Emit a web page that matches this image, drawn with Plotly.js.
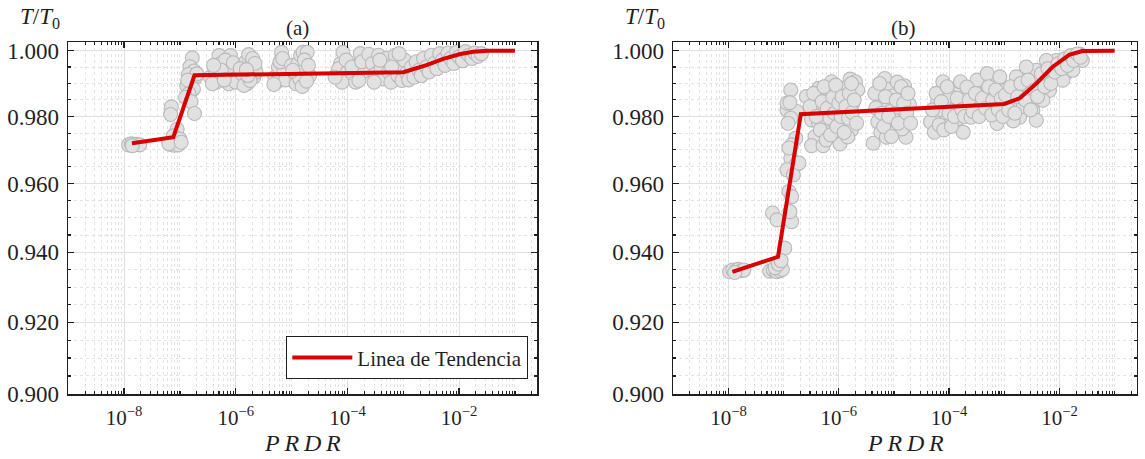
<!DOCTYPE html>
<html>
<head>
<meta charset="utf-8">
<script src="https://cdn.plot.ly/plotly-3.0.1.min.js"></script>
<style>
  html, body { margin: 0; padding: 0; background: #ffffff; }
  #chart { width: 1145px; height: 459px; }
</style>
</head>
<body>
<div id="chart"></div>
<script>
// ---- Panel (a): measured points ----
const prdrA = [
  1.2e-8, 1.35e-8, 1.5e-8, 1.65e-8, 1.9e-8, 1.4e-8,
  7.0e-8, 6.8e-8, 8.9e-8, 7.6e-8, 1.0e-7, 6.6e-8, 7.9e-8, 9.3e-8, 6.3e-8, 1.05e-7,
  1.66e-7, 1.51e-7, 1.78e-7, 1.41e-7, 1.9e-7, 1.58e-7, 1.32e-7, 1.74e-7, 1.45e-7, 1.26e-7, 1.58e-7, 1.82e-7, 2.0e-7, 1.38e-7,
  3.5e-7, 4.2e-7, 5.0e-7, 5.3e-7, 6.0e-7, 4.5e-7, 3.8e-7, 7.0e-7, 8.0e-7, 8.5e-7, 9.5e-7, 6.5e-7, 5.5e-7, 4.0e-7, 7.5e-7, 9.0e-7,
  1.0e-6, 6.2e-7, 1.3e-6, 1.5e-6, 1.7e-6, 1.9e-6, 2.1e-6, 2.3e-6, 1.6e-6, 1.4e-6, 1.8e-6, 2.0e-6, 1.2e-6, 2.2e-6, 1.65e-6, 1.55e-6,
  5.0e-6, 5.8e-6, 6.6e-6, 7.2e-6, 5.4e-6, 6.2e-6, 7.8e-6, 4.8e-6, 6.9e-6, 1.0e-5, 1.15e-5, 1.3e-5, 1.45e-5, 1.6e-5, 1.75e-5, 1.9e-5,
  2.1e-5, 1.2e-5, 1.4e-5, 1.7e-5, 1.05e-5, 1.55e-5, 2.0e-5, 1.85e-5,
  6.5e-5, 7.5e-5, 8.3e-5, 9.0e-5, 7.0e-5, 1.0e-4, 8.0e-5, 6.0e-5, 9.5e-5, 1.3e-4, 1.5e-4, 1.7e-4, 1.9e-4, 1.4e-4, 1.6e-4, 1.2e-4, 1.8e-4,
  2.4e-4, 2.8e-4, 3.2e-4, 3.6e-4, 4.0e-4, 4.5e-4, 5.0e-4, 5.5e-4, 6.0e-4, 6.6e-4, 7.2e-4, 8.0e-4, 8.8e-4, 9.5e-4,
  1.05e-3, 1.15e-3, 1.25e-3, 1.4e-3, 1.55e-3, 1.7e-3, 1.9e-3, 2.1e-3, 2.3e-3, 2.6e-3, 2.9e-3, 3.2e-3, 3.6e-3, 4.0e-3,
  4.5e-3, 5.0e-3, 5.6e-3, 6.3e-3, 7.0e-3, 8.0e-3, 9.0e-3, 1.0e-2, 1.15e-2, 1.3e-2, 1.5e-2, 1.7e-2, 1.9e-2, 2.2e-2, 2.5e-2,
  3.0e-4, 3.8e-4, 6.2e-4, 8.4e-4
];
const ratioA = [
  0.9715, 0.9718, 0.9715, 0.9717, 0.9715, 0.9713,
  0.9829, 0.9806, 0.9762, 0.9742, 0.9732, 0.9717, 0.9714, 0.9715, 0.9719, 0.9723,
  0.9978, 0.9951, 0.9938, 0.9927, 0.9918, 0.9903, 0.9893, 0.9883, 0.9869, 0.9858, 0.9845, 0.9809, 0.9929, 0.9910,
  0.9919, 0.9945, 0.9985, 0.9960, 0.9929, 0.9904, 0.9899, 0.9950, 0.9985, 0.9929, 0.9914, 0.9971, 0.9940, 0.9955, 0.9899, 0.9963,
  0.9904, 0.9911, 0.9929, 0.9966, 0.9988, 0.9950, 0.9919, 0.9935, 0.9899, 0.9894, 0.9909, 0.9976, 0.9945, 0.9961, 0.9924, 0.9942,
  0.9919, 0.9950, 0.9995, 0.9935, 0.9904, 0.9966, 0.9911, 0.9897, 0.9976, 0.9955, 0.9929, 0.9961, 0.9986, 0.9995, 0.9945, 0.9995,
  0.9924, 0.9899, 0.9914, 0.9971, 0.9940, 0.9891, 0.9955, 0.9907,
  0.9929, 0.9961, 0.9995, 0.9914, 0.9945, 0.9935, 0.9904, 0.9919, 0.9971, 0.9924, 0.9955, 0.9991, 0.9935, 0.9904, 0.9909, 0.9950, 0.9966,
  0.9989, 0.9961, 0.9929, 0.9986, 0.9945, 0.9914, 0.9976, 0.9935, 0.9904, 0.9961, 0.9986, 0.9924, 0.9945, 0.9909,
  0.9971, 0.9932, 0.9911, 0.9950, 0.9919, 0.9966, 0.9940, 0.9924, 0.9976, 0.9950, 0.9935, 0.9986, 0.9961, 0.9945,
  0.9991, 0.9971, 0.9955, 0.9993, 0.9976, 0.9961, 0.9996, 0.9981, 0.9969, 0.9997, 0.9986, 0.9976, 0.9993, 0.9983, 0.9991,
  0.9904, 0.9971, 0.9950, 0.9991
];

// ---- Panel (a): trend line ----
const prdrTrendA = [1.38e-8, 7.6e-8, 1.82e-7, 1.0e-3, 2.6e-3, 5.2e-3, 1.05e-2, 1.8e-2, 3.2e-2, 1.0e-1];
const ratioTrendA = [0.9720, 0.9738, 0.9925, 0.9934, 0.9956, 0.9975, 0.9990, 0.9997, 1.0000, 1.0000];

// ---- Panel (b): measured points ----
const prdrB = [
  1.05e-8, 1.2e-8, 1.35e-8, 1.5e-8, 1.7e-8, 1.9e-8, 1.3e-8,
  5.6e-8, 6.5e-8, 7.5e-8, 8.5e-8, 9.5e-8, 7.0e-8, 8.0e-8, 6.3e-8, 7.6e-8, 1.05e-7, 9.0e-8,
  1.35e-7, 1.15e-7, 1.73e-7, 1.35e-7, 1.66e-7, 1.4e-7, 1.35e-7, 1.66e-7, 1.15e-7, 1.5e-7, 1.25e-7, 1.4e-7, 1.4e-7, 1.3e-7, 1.9e-7, 1.25e-7,
  1.15e-7, 1.3e-7, 1.2e-7,
  4.3e-7, 7.4e-7, 1.6e-6, 1.4e-6, 3.2e-7, 6.5e-7, 1.3e-6, 4.3e-7, 9.8e-7, 1.8e-6, 3.2e-7, 6.5e-7, 1.3e-6, 1.7e-6, 6.5e-7, 3.7e-7,
  3.2e-7, 5.2e-7, 1.05e-6, 8.6e-7, 4.8e-7, 1.2e-6, 7.4e-7, 1.6e-6, 4.3e-7, 8.0e-7, 1.45e-6, 5.6e-7, 2.0e-6, 2.2e-6, 2.6e-7,
  3.0e-7, 3.5e-7, 3.9e-7, 4.6e-7, 5.0e-7, 5.4e-7, 5.9e-7, 6.2e-7, 6.9e-7, 7.1e-7, 7.8e-7, 8.3e-7, 8.8e-7, 9.2e-7, 1.0e-6,
  1.1e-6, 1.15e-6, 1.25e-6, 1.35e-6, 1.5e-6, 1.55e-6, 1.7e-6, 1.75e-6, 1.9e-6, 2.1e-6,
  4.2e-6, 5.1e-6, 6.3e-6, 6.8e-6, 7.7e-6, 8.7e-6, 1.02e-5, 1.15e-5, 1.3e-5, 1.45e-5, 1.65e-5, 1.9e-5, 5.8e-6, 9.5e-6, 1.25e-5,
  1.4e-5, 4.7e-6, 1.55e-5, 1.05e-5, 7.3e-6,
  4.5e-6, 5.5e-6, 6.0e-6, 6.5e-6, 7.0e-6, 8.0e-6, 9.0e-6, 1.1e-5, 1.2e-5, 1.35e-5, 1.5e-5, 1.7e-5, 1.8e-5, 2.0e-5,
  4.6e-5, 5.4e-5, 6.2e-5, 7.7e-5, 8.6e-5, 9.8e-5, 1.15e-4, 1.3e-4, 1.5e-4, 1.6e-4, 1.8e-4, 6.9e-5, 1.05e-4, 1.35e-4,
  5.0e-5, 5.8e-5, 6.6e-5, 7.2e-5, 8.0e-5, 9.2e-5, 1.0e-4, 1.1e-4, 1.25e-4, 1.4e-4, 1.7e-4, 1.9e-4,
  3.2e-4, 6.8e-4, 4.9e-4, 2.5e-4, 6.5e-4, 1.9e-3, 1.65e-3, 2.2e-3, 3.8e-3, 6.6e-3, 5.0e-3, 3.3e-3, 1.1e-3, 1.0e-2,
  1.5e-2, 1.3e-2, 2.0e-2, 2.3e-2, 7.6e-3, 2.9e-3, 1.45e-3, 9.8e-4, 4.3e-4, 2.8e-4, 7.4e-4, 1.45e-3, 4.4e-3, 8.7e-3,
  5.8e-3, 1.15e-2, 1.75e-2, 2.6e-2, 2.5e-3, 8.3e-4, 3.7e-4, 5.6e-4, 2.2e-3, 3.8e-3, 2.1e-4,
  2.3e-4, 2.7e-4, 3.0e-4, 3.5e-4, 4.0e-4, 4.6e-4, 5.2e-4, 5.9e-4, 6.2e-4, 7.0e-4, 7.8e-4, 8.8e-4, 9.4e-4, 1.05e-3,
  1.2e-3, 1.3e-3, 1.55e-3, 1.75e-3, 2.0e-3, 2.4e-3, 2.7e-3, 3.0e-3, 3.5e-3, 4.0e-3, 4.7e-3, 5.4e-3, 6.2e-3, 7.0e-3,
  8.2e-3, 9.4e-3, 1.1e-2, 1.25e-2, 1.4e-2, 1.6e-2, 1.8e-2, 2.1e-2, 2.4e-2
];
const ratioB = [
  0.9344, 0.9349, 0.9346, 0.9351, 0.9347, 0.9349, 0.9342,
  0.9346, 0.9349, 0.9344, 0.9347, 0.9351, 0.9356, 0.9366, 0.9514, 0.9494, 0.9412, 0.9376,
  0.9880, 0.9820, 0.9815, 0.9795, 0.9735, 0.9715, 0.9675, 0.9655, 0.9641, 0.9626, 0.9577, 0.9562, 0.9489, 0.9518, 0.9661, 0.9706,
  0.9840, 0.9842, 0.9780,
  0.9885, 0.9905, 0.9913, 0.9882, 0.9850, 0.9850, 0.9855, 0.9825, 0.9820, 0.9840, 0.9790, 0.9800, 0.9785, 0.9760, 0.9760, 0.9740,
  0.9713, 0.9713, 0.9718, 0.9755, 0.9870, 0.9885, 0.9868, 0.9815, 0.9780, 0.9787, 0.9739, 0.9815, 0.9905, 0.9880, 0.9860,
  0.9830, 0.9870, 0.9800, 0.9760, 0.9845, 0.9890, 0.9730, 0.9825, 0.9795, 0.9745, 0.9858, 0.9810, 0.9895, 0.9770, 0.9840,
  0.9800, 0.9860, 0.9752, 0.9830, 0.9795, 0.9870, 0.9900, 0.9812, 0.9850, 0.9780,
  0.9720, 0.9784, 0.9846, 0.9915, 0.9882, 0.9816, 0.9753, 0.9904, 0.9867, 0.9794, 0.9738, 0.9836, 0.9753, 0.9862, 0.9826,
  0.9763, 0.9826, 0.9893, 0.9788, 0.9738,
  0.9870, 0.9900, 0.9810, 0.9770, 0.9860, 0.9800, 0.9740, 0.9850, 0.9780, 0.9890, 0.9840, 0.9810, 0.9870, 0.9780,
  0.9784, 0.9753, 0.9846, 0.9905, 0.9811, 0.9773, 0.9836, 0.9867, 0.9794, 0.9905, 0.9753, 0.9821, 0.9862, 0.9826,
  0.9820, 0.9870, 0.9775, 0.9845, 0.9760, 0.9890, 0.9810, 0.9770, 0.9800, 0.9855, 0.9820, 0.9800,
  0.9910, 0.9905, 0.9930, 0.9798, 0.9808, 0.9798, 0.9920, 0.9889, 0.9940, 0.9879, 0.9849, 0.9819, 0.9830, 0.9950,
  0.9960, 0.9930, 0.9975, 0.9990, 0.9920, 0.9869, 0.9849, 0.9879, 0.9869, 0.9839, 0.9779, 0.9787, 0.9910, 0.9970,
  0.9970, 0.9910, 0.9940, 0.9970, 0.9950, 0.9920, 0.9829, 0.9839, 0.9830, 0.9789, 0.9889,
  0.9850, 0.9815, 0.9870, 0.9800, 0.9855, 0.9825, 0.9890, 0.9805, 0.9850, 0.9880, 0.9820, 0.9855, 0.9800, 0.9865,
  0.9820, 0.9890, 0.9810, 0.9860, 0.9900, 0.9850, 0.9910, 0.9820, 0.9880, 0.9860, 0.9930, 0.9890, 0.9945, 0.9900,
  0.9935, 0.9960, 0.9945, 0.9975, 0.9955, 0.9985, 0.9970, 0.9990, 0.9980
];

// ---- Panel (b): trend line ----
const prdrTrendB = [1.18e-8, 7.9e-8, 2.05e-7, 1.0e-3, 1.9e-3, 3.8e-3, 7.6e-3, 1.5e-2, 2.6e-2, 5.0e-2, 1.0e-1];
const ratioTrendB = [0.9344, 0.9387, 0.9807, 0.9838, 0.9855, 0.9900, 0.9951, 0.9987, 0.9999, 1.0000, 1.0000];

// ---- Axis ticks and labels ----
const xTickVals = [1e-8, 1e-6, 1e-4, 1e-2];
const xTickText = ['10<sup>−8</sup>', '10<sup>−6</sup>', '10<sup>−4</sup>', '10<sup>−2</sup>'];
const yTickVals = [0.90, 0.92, 0.94, 0.96, 0.98, 1.00];
const yTickText = ['0.900', '0.920', '0.940', '0.960', '0.980', '1.000'];

// minor ticks: every 1..9 × decade on x, every 0.005 on y
const xMinor = [];
for (let e = -9; e <= -1; e++) {
  for (let m = 1; m <= 9; m++) {
    const v = m * Math.pow(10, e);
    if (!(m === 1 && e % 2 === 0)) xMinor.push(v);
  }
}
const yMinor = [];
for (let k = 1; k <= 20; k++) {
  if (k % 4 !== 0) yMinor.push(0.9 + k * 0.005);
}

const W = 1145, H = 459;
const serif = '"Liberation Serif", "DejaVu Serif", serif';
const ink = '#1f1f1f';

function xAxis(left, right) {
  return {
    type: 'log',
    domain: [left / W, right / W],
    range: [-9, -0.6],
    tickmode: 'array',
    tickvals: xTickVals,
    ticktext: xTickText,
    tickfont: { family: serif, size: 21, color: ink },
    ticks: 'inside', ticklen: 6, tickwidth: 1.3, tickcolor: ink,
    showline: true, linecolor: ink, linewidth: 1.6, mirror: 'allticks',
    showgrid: true, gridcolor: '#e0e0e0', gridwidth: 1,
    zeroline: false,
    ticklabelstandoff: 4,
    minor: {
      tickmode: 'array', tickvals: xMinor,
      ticks: 'inside', ticklen: 3, tickwidth: 1.1, tickcolor: ink,
      showgrid: true, gridcolor: '#e3e3e3', gridwidth: 1, griddash: 'dot'
    }
  };
}

function yAxis(anchor) {
  return {
    type: 'log',
    anchor: anchor,
    domain: [1 - 394 / H, 1 - 42.3 / H],
    range: [Math.log10(0.9), Math.log10(1.00258)],
    tickmode: 'array',
    tickvals: yTickVals,
    ticktext: yTickText,
    tickfont: { family: serif, size: 23, color: ink },
    ticks: 'inside', ticklen: 6, tickwidth: 1.3, tickcolor: ink,
    showline: true, linecolor: ink, linewidth: 1.6, mirror: 'allticks',
    showgrid: true, gridcolor: '#e0e0e0', gridwidth: 1,
    zeroline: false,
    ticklabelstandoff: 3,
    minor: {
      tickmode: 'array', tickvals: yMinor,
      ticks: 'inside', ticklen: 3, tickwidth: 1.1, tickcolor: ink,
      showgrid: true, gridcolor: '#e3e3e3', gridwidth: 1, griddash: 'dot'
    }
  };
}

const markerStyle = {
  size: 14,
  color: '#e1e1e1',
  line: { color: '#b9b9b9', width: 1.1 }
};
const trendStyle = { color: '#d80000', width: 4 };

const traces = [
  { x: prdrA, y: ratioA, xaxis: 'x', yaxis: 'y', type: 'scatter', mode: 'markers',
    marker: markerStyle, showlegend: false, hoverinfo: 'x+y' },
  { x: prdrTrendA, y: ratioTrendA, xaxis: 'x', yaxis: 'y', type: 'scatter', mode: 'lines',
    line: trendStyle, name: 'Linea de Tendencia', showlegend: true },
  { x: prdrB, y: ratioB, xaxis: 'x2', yaxis: 'y2', type: 'scatter', mode: 'markers',
    marker: markerStyle, showlegend: false, hoverinfo: 'x+y' },
  { x: prdrTrendB, y: ratioTrendB, xaxis: 'x2', yaxis: 'y2', type: 'scatter', mode: 'lines',
    line: trendStyle, name: 'Linea de Tendencia', showlegend: false }
];

const ann = (x, y, text, size, extra) => Object.assign({
  xref: 'paper', yref: 'paper', x: x / W, y: 1 - y / H,
  xanchor: 'center', yanchor: 'middle', showarrow: false,
  text: text, font: { family: serif, size: size, color: ink }
}, extra || {});

const layout = {
  width: W, height: H,
  margin: { l: 0, r: 0, t: 0, b: 0 },
  paper_bgcolor: '#ffffff',
  plot_bgcolor: '#ffffff',
  xaxis: xAxis(68.3, 537.3),
  yaxis: yAxis('x'),
  xaxis2: xAxis(673.3, 1136.7),
  yaxis2: yAxis('x2'),
  showlegend: true,
  legend: {
    x: 528.3 / W, y: 1 - 379.3 / H, xanchor: 'right', yanchor: 'bottom',
    bgcolor: '#ffffff', bordercolor: ink, borderwidth: 1,
    font: { family: serif, size: 21, color: ink },
    itemwidth: 60, tracegroupgap: 0
  },
  annotations: [
    ann(298, 28, '(a)', 21),
    ann(903, 28, '(b)', 21),
    ann(40, 18, '<i>T</i>/<i>T</i><sub>0</sub>', 23),
    ann(645, 18, '<i>T</i>/<i>T</i><sub>0</sub>', 23),
    ann(302.8, 443, '<i>P\u2009R\u2009D\u2009R</i>', 24),
    ann(905, 443, '<i>P\u2009R\u2009D\u2009R</i>', 24)
  ]
};

Plotly.newPlot('chart', traces, layout, { staticPlot: true, displayModeBar: false });
</script>
</body>
</html>
